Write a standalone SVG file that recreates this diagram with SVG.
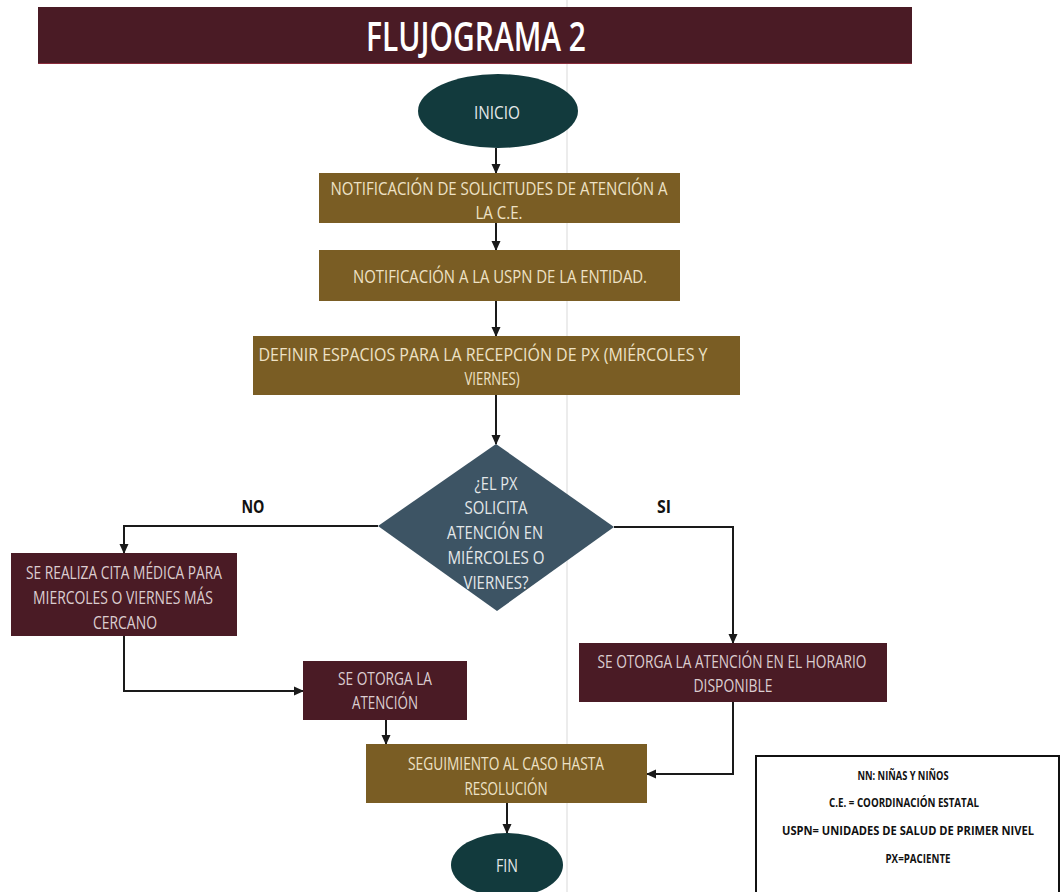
<svg xmlns="http://www.w3.org/2000/svg" width="1062" height="892" viewBox="0 0 1062 892">
  <defs>
    <marker id="arrow" markerUnits="userSpaceOnUse" markerWidth="10" markerHeight="10" refX="9" refY="5" orient="auto">
      <path d="M0,0.5 L10,5 L0,9.5 Z" fill="#1a1a1a"/>
    </marker>
    <style>
      .gold { fill: #7a5d24; }
      .wine { fill: #4a1b25; }
      .term { fill: #123a3d; }
      .dec { fill: #3d5464; }
      .lbl { font-family: "Open Sans", "Noto Sans", sans-serif; font-size: 18px; text-anchor: middle; }
      .lg { fill: #eee2c6; }
      .lw { fill: #dccdd0; }
      .ld { fill: #e4e8ea; }
      .branch { font-family: "Open Sans", "Noto Sans", sans-serif; font-size: 18px; font-weight: 700; fill: #111; text-anchor: middle; }
      .key { font-family: "Open Sans", "Noto Sans", sans-serif; font-size: 12px; font-weight: 700; fill: #111; text-anchor: middle; }
      .conn { fill: none; stroke: #1a1a1a; stroke-width: 2; }
    </style>
  </defs>

  <rect width="1062" height="892" fill="#ffffff"/>
  <!-- faint page fold -->
  <line x1="567" y1="0" x2="567" y2="892" stroke="#ececec" stroke-width="2"/>

  <g id="title">
    <rect x="38" y="7" width="874" height="57" fill="#4a1b25"/>
    <line x1="38" y1="63.5" x2="912" y2="63.5" stroke="#8a2c3c" stroke-width="1"/>
    <text x="476" y="51" font-family="Open Sans, Noto Sans, sans-serif" font-size="40" font-weight="600" fill="#ffffff" text-anchor="middle" textLength="220" lengthAdjust="spacingAndGlyphs">FLUJOGRAMA 2</text>
  </g>

  <g id="connectors">
    <line class="conn" x1="496" y1="148" x2="496" y2="173" marker-end="url(#arrow)"/>
    <line class="conn" x1="496" y1="223" x2="496" y2="250" marker-end="url(#arrow)"/>
    <line class="conn" x1="496" y1="301" x2="496" y2="336" marker-end="url(#arrow)"/>
    <line class="conn" x1="496" y1="395" x2="496" y2="444" marker-end="url(#arrow)"/>
    <polyline class="conn" points="378,526 124,526 124,553" marker-end="url(#arrow)"/>
    <polyline class="conn" points="614,527 733,527 733,643" marker-end="url(#arrow)"/>
    <polyline class="conn" points="124,636 124,691 303,691" marker-end="url(#arrow)"/>
    <line class="conn" x1="386" y1="720" x2="386" y2="744" marker-end="url(#arrow)"/>
    <polyline class="conn" points="733,702 733,774 647,774" marker-end="url(#arrow)"/>
    <line class="conn" x1="507" y1="803" x2="507" y2="833" marker-end="url(#arrow)"/>
    <text class="branch" x="253" y="513" textLength="23" lengthAdjust="spacingAndGlyphs">NO</text>
    <text class="branch" x="664" y="513" textLength="14" lengthAdjust="spacingAndGlyphs">SI</text>
  </g>

  <g id="inicio">
    <ellipse class="term" cx="498" cy="111" rx="80" ry="37"/>
    <text class="lbl ld" x="497" y="119" font-size="20" textLength="46" lengthAdjust="spacingAndGlyphs">INICIO</text>
  </g>

  <g id="notificacion-ce">
    <rect class="gold" x="319" y="173" width="361" height="50"/>
    <text class="lbl lg" x="499" y="195" textLength="337" lengthAdjust="spacingAndGlyphs">NOTIFICACIÓN DE SOLICITUDES DE ATENCIÓN A</text>
    <text class="lbl lg" x="499" y="219" textLength="47" lengthAdjust="spacingAndGlyphs">LA C.E.</text>
  </g>

  <g id="notificacion-uspn">
    <rect class="gold" x="319" y="250" width="361" height="51"/>
    <text class="lbl lg" x="500" y="283" textLength="294" lengthAdjust="spacingAndGlyphs">NOTIFICACIÓN A LA USPN DE LA ENTIDAD.</text>
  </g>

  <g id="definir-espacios">
    <rect class="gold" x="253" y="336" width="487" height="59"/>
    <text class="lbl lg" x="483" y="361" textLength="449" lengthAdjust="spacingAndGlyphs">DEFINIR ESPACIOS PARA LA RECEPCIÓN DE PX (MIÉRCOLES Y</text>
    <text class="lbl lg" x="492" y="385" textLength="55" lengthAdjust="spacingAndGlyphs">VIERNES)</text>
  </g>

  <g id="decision">
    <polygon class="dec" points="496,444 614,527 497,611 378,526"/>
    <text class="lbl ld" x="496" y="490" font-size="19" textLength="43" lengthAdjust="spacingAndGlyphs">¿EL PX</text>
    <text class="lbl ld" x="496" y="514" font-size="19" textLength="63" lengthAdjust="spacingAndGlyphs">SOLICITA</text>
    <text class="lbl ld" x="495" y="539" font-size="19" textLength="96" lengthAdjust="spacingAndGlyphs">ATENCIÓN EN</text>
    <text class="lbl ld" x="496" y="564" font-size="19" textLength="97" lengthAdjust="spacingAndGlyphs">MIÉRCOLES O</text>
    <text class="lbl ld" x="496" y="589" font-size="19" textLength="65" lengthAdjust="spacingAndGlyphs">VIERNES?</text>
  </g>

  <g id="cita-medica">
    <rect class="wine" x="11" y="553" width="226" height="83"/>
    <text class="lbl lw" x="124" y="579" textLength="196" lengthAdjust="spacingAndGlyphs">SE REALIZA CITA MÉDICA PARA</text>
    <text class="lbl lw" x="123" y="604" textLength="180" lengthAdjust="spacingAndGlyphs">MIERCOLES O VIERNES MÁS</text>
    <text class="lbl lw" x="125" y="629" textLength="64" lengthAdjust="spacingAndGlyphs">CERCANO</text>
  </g>

  <g id="otorga-atencion">
    <rect class="wine" x="303" y="661" width="164" height="59"/>
    <text class="lbl lw" x="385" y="685" textLength="94" lengthAdjust="spacingAndGlyphs">SE OTORGA LA</text>
    <text class="lbl lw" x="385" y="709" textLength="66" lengthAdjust="spacingAndGlyphs">ATENCIÓN</text>
  </g>

  <g id="otorga-horario">
    <rect class="wine" x="579" y="643" width="308" height="59"/>
    <text class="lbl lw" x="732" y="668" textLength="269" lengthAdjust="spacingAndGlyphs">SE OTORGA LA ATENCIÓN EN EL HORARIO</text>
    <text class="lbl lw" x="733" y="692" textLength="79" lengthAdjust="spacingAndGlyphs">DISPONIBLE</text>
  </g>

  <g id="seguimiento">
    <rect class="gold" x="366" y="744" width="281" height="59"/>
    <text class="lbl lg" x="506" y="770" textLength="196" lengthAdjust="spacingAndGlyphs">SEGUIMIENTO AL CASO HASTA</text>
    <text class="lbl lg" x="506" y="795" textLength="83" lengthAdjust="spacingAndGlyphs">RESOLUCIÓN</text>
  </g>

  <g id="fin">
    <ellipse class="term" cx="507" cy="865" rx="56" ry="32"/>
    <text class="lbl ld" x="507" y="872" font-size="20" textLength="22" lengthAdjust="spacingAndGlyphs">FIN</text>
  </g>

  <g id="legend">
    <rect x="756" y="756" width="303" height="136" fill="#ffffff"/>
    <path d="M756,892 V756 H1059 V892" fill="none" stroke="#111111" stroke-width="2"/>
    <text class="key" x="903" y="780" textLength="91" lengthAdjust="spacingAndGlyphs">NN: NIÑAS Y NIÑOS</text>
    <text class="key" x="904" y="807" textLength="150" lengthAdjust="spacingAndGlyphs">C.E. = COORDINACIÓN ESTATAL</text>
    <text class="key" x="908" y="835" textLength="252" lengthAdjust="spacingAndGlyphs">USPN= UNIDADES DE SALUD DE PRIMER NIVEL</text>
    <text class="key" x="918" y="863" textLength="65" lengthAdjust="spacingAndGlyphs">PX=PACIENTE</text>
  </g>
</svg>
